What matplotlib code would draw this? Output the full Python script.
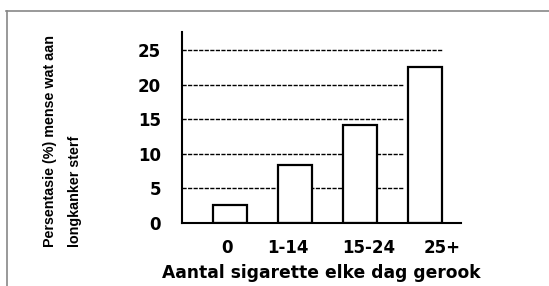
import numpy as np
import matplotlib.pyplot as plt
import matplotlib.transforms as mtransforms
from matplotlib.lines import Line2D

# data
kategorie = ['0', '1-14', '15-24', '25+']
persentasie = [2.6, 8.3, 14.1, 22.5]
y_ticks = [0, 5, 10, 15, 20, 25]

plt.rcParams['font.family'] = ['DejaVu Sans']

fig = plt.figure(figsize=(5.49, 2.86), dpi=100)
ax = fig.add_axes([0.3315, 0.2217, 0.508, 0.668])

x = np.arange(len(kategorie))
breedte = 0.52

# gridlines behind the bars
ax.hlines(y_ticks[-1], -0.74, x[-1] + breedte / 2, colors='black',
          linestyles=(0, (3, 1)), linewidth=1.0, zorder=1)
ax.hlines(y_ticks[1:-1], -0.74, x[-1] - breedte / 2 - 0.07, colors='black',
          linestyles=(0, (3, 1)), linewidth=1.0, zorder=1)

ax.bar(x, persentasie, width=breedte, color='white', edgecolor='black',
       linewidth=1.6, zorder=2)

ax.set_xlim(-0.74, 3.55)
ax.set_ylim(0, 27.7)
ax.set_yticks(y_ticks)
ax.set_xticks(x)
ax.set_xticklabels(kategorie, fontweight='bold', fontsize=12)
ax.set_yticklabels([str(v) for v in y_ticks], fontweight='bold', fontsize=12)
ax.tick_params(axis='both', length=0)
ax.tick_params(axis='y', pad=15)
ax.tick_params(axis='x', pad=12)

# tick labels are not exactly centred under the bars in the original
verskuif = [-2, -5, 6, 12]  # points
for lab, dx in zip(ax.get_xticklabels(), verskuif):
    lab.set_transform(lab.get_transform() + mtransforms.ScaledTranslation(dx / 72, 0, fig.dpi_scale_trans))

for s in ['top', 'right']:
    ax.spines[s].set_visible(False)
for s in ['left', 'bottom']:
    ax.spines[s].set_linewidth(1.5)
    ax.spines[s].set_color('black')

ax.set_xlabel('Aantal sigarette elke dag gerook', fontweight='bold', fontsize=12.3, labelpad=5)

fig.text(0.113, 0.136, 'Persentasie (%) mense wat aan\nlongkanker sterf',
         rotation=90, ha='center', va='bottom', fontsize=10.3, fontweight='bold',
         family=['Liberation Sans', 'DejaVu Sans'],
         multialignment='left', linespacing=2.0)

# frame around the picture
fig.add_artist(Line2D([0.011, 1.0], [0.963, 0.963], color='#888888', linewidth=1.2))
fig.add_artist(Line2D([0.012, 0.012], [0.0, 0.963], color='#888888', linewidth=1.2))

fig.savefig('out.png', dpi=100)
